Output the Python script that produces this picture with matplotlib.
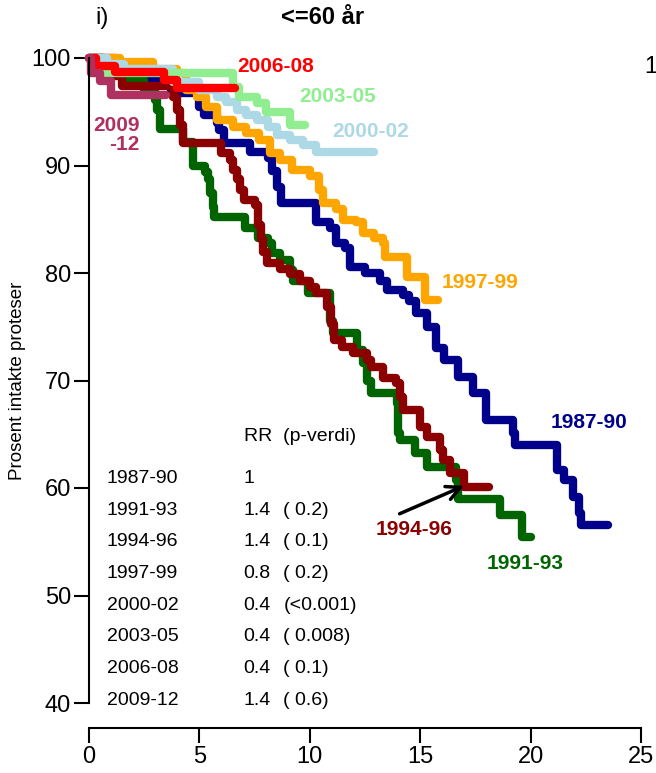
import matplotlib
matplotlib.use("Agg")
import matplotlib.pyplot as plt

plt.rcParams['font.family'] = ['Liberation Sans', 'DejaVu Sans']

# Kaplan-Meier trinn: tid (år) og prosent intakte proteser etter hvert fall
t_8790 = [0, 0.7, 2.5, 3.7, 5.0, 5.2, 5.8, 5.9, 6.1, 7.3, 8.1, 8.3, 8.5, 8.7, 10.3, 10.9, 11.2, 11.6, 11.8,
          12.5, 13.2, 13.5, 14.2, 14.5, 14.8, 15.3, 15.7, 16.1, 16.7, 17.4, 18.0, 19.2, 19.3, 21.2, 21.5,
          21.9, 22.2, 22.3, 23.5]
s_8790 = [100, 99.0, 98.0, 96.7, 95.4, 94.7, 94.0, 93.3, 92.1, 91.3, 90.7, 89.5, 88.0, 86.5, 84.7, 84.2, 82.8,
          82.3, 80.6, 80.0, 79.3, 78.4, 78.0, 77.4, 76.3, 75.0, 73.0, 71.9, 70.3, 68.8, 66.3, 65.1, 64.0,
          61.7, 60.7, 59.2, 57.7, 56.6, 56.6]

t_9193 = [0, 0.6, 1.5, 2.5, 3.0, 3.1, 3.2, 4.26, 4.7, 5.25, 5.4, 5.5, 5.6, 5.65, 7.07, 7.65, 8.1, 8.3, 8.65,
          9.1, 9.25, 9.9, 10.9, 11.05, 12.15, 12.4, 12.6, 12.75, 13.95, 14.0, 14.1, 14.75, 15.3, 16.6, 16.7,
          18.6, 19.6, 20.0]
s_9193 = [100, 99.0, 98.0, 97.0, 96.1, 95.2, 93.4, 92.2, 90.0, 89.4, 88.7, 87.4, 86.1, 85.2, 84.2, 83.3, 82.8,
          81.9, 81.2, 80.3, 79.3, 78.1, 75.5, 74.4, 72.8, 71.6, 70.0, 68.8, 67.9, 65.1, 64.5, 63.3, 62.0,
          60.7, 59.0, 57.5, 55.4, 55.4]

t_9496 = [0, 1.2, 1.5, 3.8, 4.0, 4.1, 4.25, 6.0, 6.4, 6.5, 6.7, 6.85, 7.0, 7.5, 7.65, 7.8, 7.9, 8.05, 8.65,
          9.1, 9.55, 10.0, 10.3, 10.8, 10.95, 11.1, 11.45, 11.95, 12.6, 12.75, 13.3, 13.9, 14.1, 14.2, 15.0,
          15.3, 15.9, 16.05, 16.35, 17.0, 18.1]
s_9496 = [100, 98.3, 97.4, 96.4, 95.2, 93.8, 92.1, 91.2, 90.5, 89.6, 88.7, 87.7, 86.8, 86.3, 84.5, 83.2, 82.0,
          80.9, 80.4, 79.9, 79.3, 78.7, 78.1, 76.8, 75.3, 73.8, 73.1, 72.6, 71.9, 71.3, 70.2, 69.8, 68.5,
          67.3, 65.7, 64.7, 63.5, 62.6, 61.4, 60.1, 60.1]

t_9799 = [0, 1.4, 2.9, 4.0, 4.4, 4.9, 5.3, 5.8, 6.5, 7.1, 7.7, 8.2, 8.65, 9.2, 10.0, 10.4, 10.6, 11.2, 11.5,
          12.1, 12.4, 12.9, 13.3, 13.4, 14.4, 15.2, 15.8]
s_9799 = [100, 99.6, 99.0, 98.6, 97.0, 96.4, 95.4, 94.2, 93.6, 93.0, 92.4, 91.2, 90.5, 89.6, 89.0, 87.7, 86.5,
          86.0, 84.9, 84.7, 83.7, 83.3, 82.8, 81.5, 79.6, 77.5, 77.5]

t_0002 = [0, 0.8, 1.6, 3.8, 5.0, 5.8, 6.2, 6.7, 7.1, 7.6, 8.1, 8.5, 9.1, 9.7, 10.3, 12.9]
s_0002 = [100, 99.4, 99.0, 97.8, 97.0, 96.4, 95.9, 95.2, 94.7, 94.2, 93.6, 92.8, 92.4, 91.9, 91.3, 91.3]

t_0305 = [0, 0.2, 6.5, 6.8, 7.6, 8.0, 9.1, 9.8]
s_0305 = [100, 98.6, 97.3, 96.4, 95.8, 95.0, 93.8, 93.8]

t_0608 = [0, 0.3, 1.2, 3.4, 4.0, 6.6]
s_0608 = [100, 99.3, 98.7, 98.0, 97.2, 97.2]

t_0912 = [0, 0.1, 0.5, 1.0, 3.5]
s_0912 = [100, 98.6, 97.9, 96.6, 96.6]

# tabell med relativ risiko
perioder = ["1987-90", "1991-93", "1994-96", "1997-99", "2000-02", "2003-05", "2006-08", "2009-12"]
rr = ["1", "1.4", "1.4", "0.8", "0.4", "0.4", "0.4", "1.4"]
p_verdi = ["", "( 0.2)", "( 0.1)", "( 0.2)", "(<0.001)", "( 0.008)", "( 0.1)", "( 0.6)"]

xticks = [0, 5, 10, 15, 20, 25]
yticks = [40, 50, 60, 70, 80, 90, 100]

kurver = [
    (t_8790, s_8790, "#00008B"),
    (t_9193, s_9193, "#006400"),
    (t_9496, s_9496, "#8B0000"),
    (t_9799, s_9799, "#FFA500"),
    (t_0002, s_0002, "#ADD8E6"),
    (t_0305, s_0305, "#90EE90"),
    (t_0608, s_0608, "#FF0000"),
    (t_0912, s_0912, "#B03060"),
]

fig = plt.figure(figsize=(6.56, 7.73), dpi=100)
ax = fig.add_axes([89 / 656, 70 / 773, 552 / 656, 645 / 773])

for t, s, col in kurver:
    ax.plot(t, s, drawstyle="steps-post", color=col, lw=6,
            solid_capstyle="round", solid_joinstyle="round", clip_on=False)

# kurveetiketter
fs_lab = 15
ax.text(20.9, 66.1, "1987-90", color="#00008B", fontsize=fs_lab, fontweight="bold", va="center")
ax.text(18.0, 53.0, "1991-93", color="#006400", fontsize=fs_lab, fontweight="bold", va="center")
ax.text(13.0, 56.1, "1994-96", color="#8B0000", fontsize=fs_lab, fontweight="bold", va="center")
ax.text(15.95, 79.1, "1997-99", color="#FFA500", fontsize=fs_lab, fontweight="bold", va="center")
ax.text(11.0, 93.2, "2000-02", color="#ADD8E6", fontsize=fs_lab, fontweight="bold", va="center")
ax.text(9.5, 96.4, "2003-05", color="#90EE90", fontsize=fs_lab, fontweight="bold", va="center")
ax.text(6.7, 99.2, "2006-08", color="#FF0000", fontsize=fs_lab, fontweight="bold", va="center")
ax.text(2.3, 92.8, "2009\n-12", color="#B03060", fontsize=fs_lab, fontweight="bold",
        va="center", ha="right", multialignment="right", linespacing=1.0)

ax.annotate("", xy=(17.1, 60.3), xytext=(13.95, 57.5),
            arrowprops=dict(arrowstyle="->", color="black", lw=2.5, mutation_scale=25))

# RR-tabell
fs_tab = 14
ax.text(7.0, 64.8, "RR  (p-verdi)", fontsize=fs_tab, va="center")
for i, (per, r, p) in enumerate(zip(perioder, rr, p_verdi)):
    y = 60.9 - i * 2.95
    ax.text(0.8, y, per, fontsize=fs_tab, va="center")
    ax.text(7.0, y, r, fontsize=fs_tab, va="center")
    ax.text(8.8, y, p, fontsize=fs_tab, va="center")

ax.set_xlim(0, 25)
ax.set_ylim(40, 100)
ax.set_xticks(xticks)
ax.set_yticks(yticks)
ax.tick_params(labelsize=17, length=11, width=1.5, pad=2)
for side in ["top", "right"]:
    ax.spines[side].set_visible(False)
ax.spines["left"].set_linewidth(1.5)
ax.spines["bottom"].set_linewidth(1.5)
ax.spines["bottom"].set_position(("outward", 18))
ax.set_ylabel("Prosent intakte proteser", fontsize=13.5, labelpad=4)

fig.text(95 / 656, 1 - 18 / 773, "i)", fontsize=17, va="center")
fig.text(323 / 656, 1 - 18 / 773, "<=60 år", fontsize=17, fontweight="bold", va="center", ha="center")
fig.text(644 / 656, 1 - 67 / 773, "1", fontsize=17, va="center")

fig.savefig("out.png", dpi=100)
